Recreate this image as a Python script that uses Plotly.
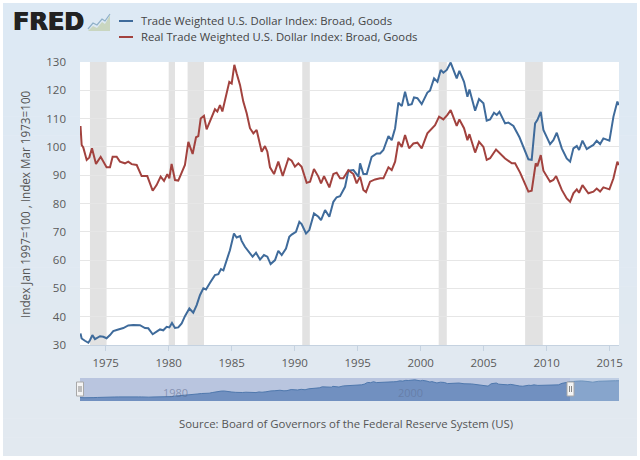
import plotly.graph_objects as go

W, H = 640, 460

nominal_years = [1973.0,1973.09,1973.35,1973.62,1973.75,1973.94,1974.15,1974.55,1974.81,1975.07,1975.34,1975.6,1976.0,1976.4,1976.79,1977.19,1977.72,1978.12,1978.38,1978.73,1979.04,1979.31,1979.57,1979.84,1980.05,1980.26,1980.5,1980.76,1981.03,1981.29,1981.64,1981.95,1982.22,1982.48,1982.75,1982.96,1983.28,1983.67,1983.94,1984.15,1984.34,1984.6,1984.86,1985.18,1985.39,1985.66,1985.79,1986.05,1986.32,1986.66,1986.93,1987.25,1987.56,1987.83,1988.09,1988.44,1988.7,1988.97,1989.31,1989.57,1989.76,1990.1,1990.37,1990.55,1990.9,1991.16,1991.53,1991.88,1992.09,1992.41,1992.75,1993.07,1993.33,1993.6,1994.0,1994.26,1994.66,1995.06,1995.19,1995.45,1995.72,1996.11,1996.51,1996.78,1997.04,1997.44,1997.7,1997.97,1998.23,1998.5,1998.76,1999.02,1999.29,1999.47,1999.74,2000.08,2000.53,2000.74,2001.06,2001.33,2001.59,2001.8,2002.07,2002.38,2002.86,2003.07,2003.44,2003.71,2003.87,2004.32,2004.63,2004.98,2005.24,2005.51,2005.82,2006.04,2006.25,2006.7,2006.96,2007.36,2007.84,2008.29,2008.55,2008.81,2009.08,2009.26,2009.53,2009.74,2010.27,2010.53,2010.8,2011.2,2011.59,2011.86,2012.12,2012.39,2012.57,2012.84,2013.18,2013.45,2013.71,2013.97,2014.24,2014.5,2014.98,2015.3,2015.61,2015.72]
nominal_values = [34.1,32.3,31.5,30.8,31.7,33.5,32.1,33.1,32.9,32.4,33.5,34.9,35.5,36.0,36.9,37.1,37.0,36.0,35.9,33.8,34.7,35.5,35.2,36.4,36.2,37.8,36.0,36.2,37.6,40.2,42.9,41.4,44.1,47.6,50.0,49.6,52.0,54.7,55.0,56.8,56.4,60.0,63.5,69.4,68.0,68.5,66.8,64.7,63.0,61.2,62.6,60.2,61.8,61.2,58.6,60.0,63.3,61.8,64.1,68.2,69.0,70.0,73.5,72.7,69.4,70.6,76.5,75.3,74.1,77.7,75.3,80.6,82.2,82.6,85.9,91.6,91.8,89.5,94.2,90.4,90.4,96.5,97.7,97.7,98.9,103.8,102.4,106.6,115.6,114.4,119.5,114.8,115.1,117.5,117.2,115.1,119.2,119.9,124.2,123.0,127.2,126.2,127.2,129.8,124.2,126.9,123.0,117.7,120.3,112.8,116.9,115.4,109.3,109.7,112.1,111.3,112.4,108.3,108.6,107.4,103.4,98.3,95.6,95.4,108.3,109.5,112.4,106.0,101.0,102.4,105.0,99.5,95.9,94.8,99.5,100.3,98.9,102.2,99.2,100.0,100.7,102.2,101.0,103.0,102.2,110.7,116.0,114.8]

real_years = [1973.0,1973.09,1973.22,1973.49,1973.7,1973.91,1974.23,1974.6,1975.07,1975.34,1975.55,1975.87,1976.13,1976.53,1976.79,1977.06,1977.46,1977.85,1978.3,1978.73,1979.04,1979.36,1979.63,1979.89,1980.05,1980.23,1980.5,1980.76,1981.03,1981.29,1981.56,1981.9,1982.17,1982.35,1982.54,1982.8,1983.01,1983.28,1983.67,1983.86,1984.07,1984.26,1984.6,1984.81,1985.0,1985.21,1985.39,1985.66,1985.92,1986.19,1986.45,1986.72,1986.98,1987.38,1987.64,1987.83,1988.04,1988.36,1988.7,1989.05,1989.5,1989.76,1990.02,1990.29,1990.55,1990.95,1991.22,1991.53,1991.88,1992.09,1992.33,1992.75,1993.07,1993.33,1993.6,1993.86,1994.26,1994.66,1994.92,1995.19,1995.45,1995.66,1995.98,1996.38,1996.78,1997.04,1997.44,1997.7,1997.97,1998.23,1998.5,1998.76,1999.08,1999.42,1999.74,2000.08,2000.53,2000.88,2001.14,2001.46,2001.8,2002.12,2002.38,2002.86,2003.07,2003.44,2003.71,2003.87,2004.32,2004.63,2004.98,2005.24,2005.51,2005.98,2006.25,2006.7,2007.23,2007.49,2007.89,2008.21,2008.55,2008.81,2009.13,2009.26,2009.53,2009.74,2010.27,2010.53,2010.75,2011.2,2011.59,2011.86,2012.12,2012.39,2012.57,2012.84,2013.31,2013.71,2013.97,2014.24,2014.5,2014.98,2015.3,2015.61,2015.72]
real_values = [107.4,100.7,99.8,95.4,96.3,99.5,94.0,96.5,92.8,92.8,96.5,96.5,94.8,94.2,94.8,93.9,93.6,89.7,89.7,84.5,86.5,89.5,88.0,90.4,88.9,94.0,88.3,88.1,90.9,93.6,101.8,97.5,103.4,103.8,110.0,111.0,106.2,108.9,113.3,112.5,114.8,112.5,119.5,123.0,122.4,129.0,126.0,121.9,116.0,111.9,106.6,104.8,106.0,98.3,100.3,98.3,92.8,90.4,94.8,89.7,95.9,95.1,93.0,94.2,93.0,87.3,87.7,92.2,89.5,87.1,89.7,85.7,90.4,90.9,88.9,88.9,91.8,90.4,87.1,89.5,84.8,84.0,87.7,88.5,88.9,88.9,92.8,91.8,94.8,101.8,100.0,104.2,99.5,101.2,101.5,99.5,104.8,106.6,107.7,110.7,109.7,111.3,113.0,107.4,109.7,106.6,102.4,104.5,98.0,101.8,100.0,95.4,96.0,99.1,98.0,95.9,94.2,94.2,90.9,87.7,84.2,84.5,94.2,93.2,97.1,91.6,87.7,88.3,89.7,84.8,81.8,80.6,83.6,85.0,83.8,86.5,83.6,84.2,85.3,84.2,85.7,85.0,88.9,94.8,93.6]

# Navigator continues past the selected window
later_years = [2016.0,2016.5,2017.0,2017.5,2018.0,2018.5,2019.0,2019.5,2020.0,2020.3]
later_values = [119,122,124,121,117,122,124,125,125,125]

recession_starts = [1973.75,1980.0,1981.5,1990.6,2001.43,2008.29]
recession_ends = [1975.07,1980.5,1982.8,1991.2,2002.07,2009.69]
x_ticks = [1975,1980,1985,1990,1995,2000,2005,2010,2015]
y_ticks = list(range(30,131,10))

NOMINAL_NAME = "Trade Weighted U.S. Dollar Index: Broad, Goods"
REAL_NAME = "Real Trade Weighted U.S. Dollar Index: Broad, Goods"
BLUE, RED = "#3f6b9b", "#a2423e"
FONT = "Open Sans"
TXT = "#5a5a5a"

def px(x): return x / W
def py(y): return 1 - y / H
def rect(x0, y0, x1, y1, **kw):
    return dict(type="rect", xref="paper", yref="paper", x0=px(x0), x1=px(x1), y0=py(y0), y1=py(y1),
                line=dict(width=0), layer="below", **kw)
def path(points, close=False):
    s = "M" + " L".join(f"{px(a):.5f},{py(b):.5f}" for a, b in points)
    return s + (" Z" if close else "")

fig = go.Figure()
fig.add_trace(go.Scatter(x=nominal_years, y=nominal_values, name=NOMINAL_NAME, mode="lines",
                         line=dict(color=BLUE, width=2), showlegend=False))
fig.add_trace(go.Scatter(x=real_years, y=real_values, name=REAL_NAME, mode="lines",
                         line=dict(color=RED, width=2), showlegend=False))
fig.add_trace(go.Scatter(x=nominal_years + later_years, y=nominal_values + later_values, mode="lines",
                         fill="tozeroy", fillcolor="#7190c0", line=dict(color="#4f78ad", width=1),
                         xaxis="x2", yaxis="y2", showlegend=False, hoverinfo="skip"))

shapes = []
# panel gradient
top, bottom = (221, 233, 244), (226, 233, 240)
n = 24
for i in range(n):
    t = i / (n - 1)
    c = tuple(round(top[k] + (bottom[k] - top[k]) * t) for k in range(3))
    y0 = 3 + (456 - 3) * i / n
    y1 = 3 + (456 - 3) * (i + 1) / n + 0.5
    shapes.append(rect(3, y0, 637, min(y1, 456), fillcolor=f"rgb{c}"))
# plot and navigator backgrounds
shapes.append(rect(80, 62, 619, 345, fillcolor="white"))
shapes.append(rect(80, 378, 619, 401, fillcolor="#b9c5df"))
# recessions
for a, b in zip(recession_starts, recession_ends):
    shapes.append(dict(type="rect", xref="x", yref="y domain", x0=a, x1=b, y0=0, y1=1,
                       fillcolor="#e2e2e2", line=dict(width=0), layer="below"))
# navigator unselected wash and handles
shapes.append(dict(type="rect", xref="paper", yref="paper", x0=px(570), x1=px(619), y0=py(378), y1=py(401),
                   fillcolor="rgba(215,240,245,0.22)", line=dict(width=0), layer="above"))
for hx in (80, 570.5):
    shapes.append(dict(type="rect", xref="paper", yref="paper", x0=px(hx - 3.5), x1=px(hx + 3.5), y0=py(382), y1=py(396),
                       fillcolor="#f4f4f4", line=dict(color="#a8a8a8", width=1), layer="above"))
    for d in (-1, 1):
        shapes.append(dict(type="line", xref="paper", yref="paper", x0=px(hx + d), x1=px(hx + d), y0=py(386), y1=py(392),
                           line=dict(color="#888888", width=1), layer="above"))
# legend keys
for yy, col in ((21, BLUE), (37, RED)):
    shapes.append(dict(type="line", xref="paper", yref="paper", x0=px(119), x1=px(133), y0=py(yy), y1=py(yy),
                       line=dict(color=col, width=2)))
# FRED logo glyph
shapes.append(dict(type="path", xref="paper", yref="paper",
                   path=path([(88,31),(93,26),(97,28),(102,22),(105,24),(110,15),(110,31)], True),
                   fillcolor="#c9d6c0", line=dict(width=0)))
shapes.append(dict(type="path", xref="paper", yref="paper",
                   path=path([(88,29),(93,23),(97,25),(102,19),(105,21),(110,14)]),
                   line=dict(color="#8fb0c8", width=1.2)))

ann = [
    dict(text="<b>FRED</b>", x=px(11), y=py(22), xref="paper", yref="paper", xanchor="left", yanchor="middle",
         showarrow=False, font=dict(family="DejaVu Sans", size=24, color="#222222",
                                    shadow="0.6px 0 0 #222222, -0.6px 0 0 #222222")),
    dict(text=NOMINAL_NAME, x=px(139), y=py(21), xref="paper", yref="paper", xanchor="left", yanchor="middle",
         showarrow=False, font=dict(family=FONT, size=11.3, color="#444444")),
    dict(text=REAL_NAME, x=px(139), y=py(37), xref="paper", yref="paper", xanchor="left", yanchor="middle",
         showarrow=False, font=dict(family=FONT, size=11.3, color="#444444")),
    dict(text="Source: Board of Governors of the Federal Reserve System (US)", x=px(346), y=py(423),
         xref="paper", yref="paper", xanchor="center", yanchor="middle", showarrow=False,
         font=dict(family=FONT, size=11.4, color="#555555")),
    dict(text="Index Jan 1997=100 , Index Mar 1973=100", x=px(25), y=py(204), xref="paper", yref="paper",
         xanchor="center", yanchor="middle", textangle=-90, showarrow=False,
         font=dict(family=FONT, size=11.7, color="#555555")),
    dict(text="1980", x=px(175), y=py(392), xref="paper", yref="paper", xanchor="center", yanchor="middle",
         showarrow=False, font=dict(family=FONT, size=11, color="rgba(90,105,140,0.55)")),
    dict(text="2000", x=px(410), y=py(392), xref="paper", yref="paper", xanchor="center", yanchor="middle",
         showarrow=False, font=dict(family=FONT, size=11, color="rgba(90,105,140,0.45)")),
]

fig.update_layout(
    width=W, height=H, autosize=False, margin=dict(l=0, r=0, t=0, b=0, autoexpand=False),
    paper_bgcolor="white", plot_bgcolor="rgba(0,0,0,0)", showlegend=False,
    shapes=shapes, annotations=ann, font=dict(family=FONT),
    xaxis=dict(domain=[px(80), px(619)], range=[1972.96, 2015.74], tickvals=x_ticks, showgrid=False,
               zeroline=False, showline=True, linecolor="#c5d2e0", linewidth=1, ticks="outside", ticklen=5,
               tickcolor="#c5d2e0", tickfont=dict(family=FONT, size=11.5, color=TXT), ticklabelstandoff=2, anchor="y"),
    yaxis=dict(domain=[py(345), py(62)], range=[30, 130], tickvals=y_ticks, showgrid=True, gridcolor="#e6e6e6",
               gridwidth=1, zeroline=False, showline=False, ticks="", ticklen=0, ticklabelstandoff=13,
               tickfont=dict(family=FONT, size=11.5, color=TXT), anchor="x"),
    xaxis2=dict(domain=[px(80), px(619)], range=[1973, 2020.3], showticklabels=False, showgrid=False,
                zeroline=False, ticks="", anchor="y2"),
    yaxis2=dict(domain=[py(401), py(378)], range=[13.5, 140], showticklabels=False, showgrid=False,
                zeroline=False, ticks="", anchor="x2"),
)
fig.write_html("out.html", config=dict(displayModeBar=False),
               post_script="document.body.style.margin='0';document.body.style.overflow='hidden';")
